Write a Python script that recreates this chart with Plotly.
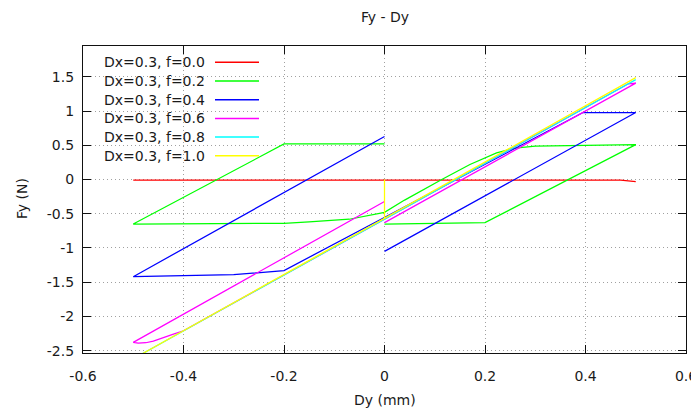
import plotly.graph_objects as go

# ---------------- data ----------------
series_names = ["Dx=0.3, f=0.0", "Dx=0.3, f=0.2", "Dx=0.3, f=0.4",
                "Dx=0.3, f=0.6", "Dx=0.3, f=0.8", "Dx=0.3, f=1.0"]
series_colors = ["#ff0000", "#00ff00", "#0000ff", "#ff00ff", "#00ffff", "#ffff00"]

red_x = [-0.5, 0.0, 0.47, 0.5]
red_y = [-0.01, -0.01, -0.01, -0.03]

green_x = [0.0, -0.2, -0.5, -0.2, -0.15, -0.07, 0.0, 0.04, 0.114, 0.17, 0.223, 0.26, 0.3, 0.5, 0.2, 0.0]
green_y = [0.52, 0.52, -0.65, -0.64, -0.62, -0.58, -0.48, -0.30, 0.0, 0.22, 0.39, 0.46, 0.49, 0.51, -0.63, -0.65]

blue_x = [0.0, 0.5, 0.395, -0.2, -0.3, -0.5, 0.0]
blue_y = [-1.05, 0.98, 0.98, -1.33, -1.39, -1.42, 0.63]

magenta_x = [0.0, 0.5, 0.485, -0.4, -0.42, -0.44, -0.46, -0.475, -0.49, -0.5, 0.0]
magenta_y = [-0.63, 1.41, 1.40, -2.21, -2.26, -2.31, -2.36, -2.385, -2.39, -2.38, -0.32]

cyan_x = [0.0, 0.5, -0.5, 0.0]
cyan_y = [-0.58, 1.46, -2.62, -0.58]

yellow_x = [0.0, 0.0, 0.5, -0.5, 0.0]
yellow_y = [0.0, -0.57, 1.49, -2.62, -0.57]

x_ticks = [-0.6, -0.4, -0.2, 0.0, 0.2, 0.4, 0.6]
x_tick_labels = ["-0.6", "-0.4", "-0.2", "0", "0.2", "0.4", "0.6"]
y_ticks = [-2.5, -2.0, -1.5, -1.0, -0.5, 0.0, 0.5, 1.0, 1.5]
y_tick_labels = ["-2.5", "-2", "-1.5", "-1", "-0.5", "0", "0.5", "1", "1.5"]

x_range = [-0.6, 0.6]
y_range = [-2.535, 1.952]

xs = [red_x, green_x, blue_x, magenta_x, cyan_x, yellow_x]
ys = [red_y, green_y, blue_y, magenta_y, cyan_y, yellow_y]

# ---------------- layout helpers ----------------
# The page body has an 8px margin, so the figure is drawn 8px in from the
# top-left corner of the 699x411 window.
OFF = 8
W, H = 699 - OFF, 411 - OFF
# plot frame in window pixels: left 83, right 686, top 46, bottom 353
L = 83 - OFF
T = 46 - OFF
R = 699 - 686
B = 411 - 353
PW, PH = W - L - R, H - T - B
FONT = "DejaVu Sans"
TXT = "#1a1a1a"


def px(xw):
    """window x pixel -> paper coordinate"""
    return (xw - OFF - L) / PW


def py(yw):
    """window y pixel -> paper coordinate"""
    return (T + PH - (yw - OFF)) / PH


fig = go.Figure()
for name, color, x, y in zip(series_names, series_colors, xs, ys):
    fig.add_trace(go.Scatter(x=x, y=y, mode="lines", name=name,
                             line=dict(color=color, width=1.25),
                             showlegend=False, hoverinfo="skip"))

axis_common = dict(
    showline=True, linecolor="#111111", linewidth=1.2, mirror="ticks",
    ticks="inside", ticklen=8, tickcolor="#111111", tickwidth=1,
    showgrid=True, gridcolor="#a0a0a0", gridwidth=1, griddash="1px,3px",
    zeroline=False, tickfont=dict(family=FONT, size=14, color=TXT),
    automargin=False,
)

fig.update_xaxes(range=x_range, tickmode="array", tickvals=x_ticks,
                 ticktext=x_tick_labels, ticklabelstandoff=10, **axis_common)
fig.update_yaxes(range=y_range, tickmode="array", tickvals=y_ticks,
                 ticktext=y_tick_labels, ticklabelstandoff=5, **axis_common)

shapes = []
annotations = []
# opaque key box hiding grid lines (between grid and traces)
shapes.append(dict(type="rect", xref="paper", yref="paper",
                   x0=px(84), x1=px(266), y0=py(167), y1=py(47),
                   fillcolor="white", line=dict(width=0), layer="between"))

row_y0, row_dy = 62.3, 18.7
for i, (name, color) in enumerate(zip(series_names, series_colors)):
    yy = row_y0 + i * row_dy
    annotations.append(dict(text=name, xref="paper", yref="paper",
                            x=px(207), y=py(yy), xanchor="right", yanchor="middle",
                            showarrow=False,
                            font=dict(family=FONT, size=14, color=TXT)))
    shapes.append(dict(type="line", xref="paper", yref="paper",
                       x0=px(215), x1=px(259), y0=py(yy), y1=py(yy),
                       line=dict(color=color, width=1.5), layer="above"))

annotations.append(dict(text="Fy - Dy", xref="paper", yref="paper",
                        x=px(384.5), y=py(17), xanchor="center", yanchor="middle",
                        showarrow=False, font=dict(family=FONT, size=14, color=TXT)))
annotations.append(dict(text="Dy (mm)", xref="paper", yref="paper",
                        x=px(384.5), y=py(400), xanchor="center", yanchor="middle",
                        showarrow=False, font=dict(family=FONT, size=14, color=TXT)))
annotations.append(dict(text="Fy (N)", xref="paper", yref="paper",
                        x=px(22), y=py(199), xanchor="center", yanchor="middle",
                        textangle=-90, showarrow=False,
                        font=dict(family=FONT, size=14, color=TXT)))

fig.update_layout(width=W, height=H, margin=dict(l=L, r=R, t=T, b=B),
                  paper_bgcolor="white", plot_bgcolor="white",
                  shapes=shapes, annotations=annotations, showlegend=False,
                  font=dict(family=FONT, size=14, color=TXT))

fig.write_html("out.html")
